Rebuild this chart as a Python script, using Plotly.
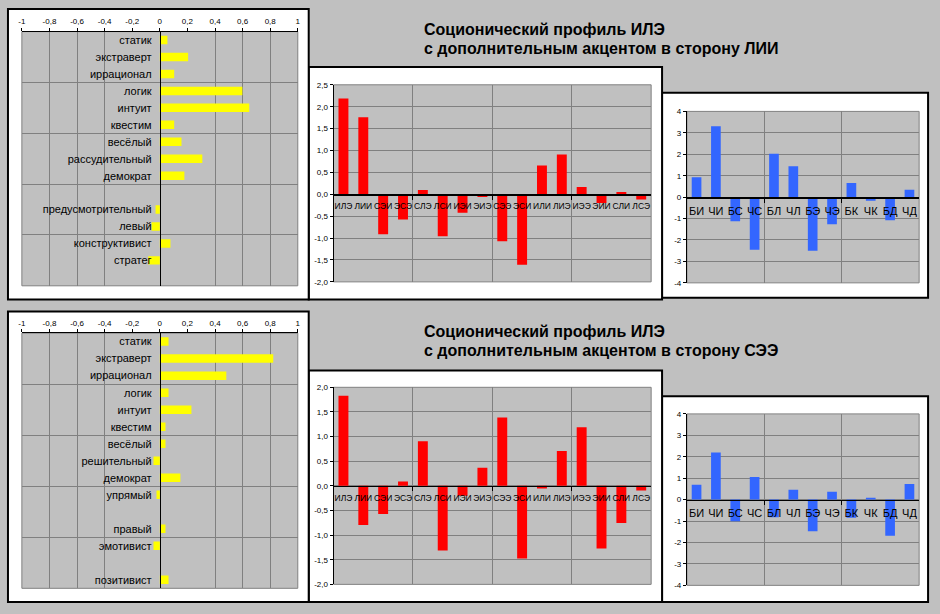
"""Socionics profile of ILE: two variants (accent to LII / accent to SEE).

Each row = trait bars (Reinin-like), 16 TIM scores, 12 function scores.
"""
import plotly.graph_objects as go

W, H = 940, 614
FONT = "Liberation Sans, Arial, sans-serif"
GREY = "#C0C0C0"
GRID = "#808080"
YELLOW = "#FFFF00"
RED = "#FF0000"
BLUE = "#3366FF"

# --- data -----------------------------------------------------------------
TOP_TITLE = ["Соционический профиль ИЛЭ", "с дополнительным акцентом в сторону ЛИИ"]
BOTTOM_TITLE = ["Соционический профиль ИЛЭ", "с дополнительным акцентом в сторону СЭЭ"]

TOP_TRAITS = ["статик", "экстраверт", "иррационал", "логик", "интуит", "квестим",
              "весёлый", "рассудительный", "демократ", "", "предусмотрительный",
              "левый", "конструктивист", "стратег", ""]
TOP_TRAIT_VALUES = [0.055, 0.205, 0.104, 0.598, 0.648, 0.104, 0.157, 0.308, 0.178,
                    None, -0.031, -0.06, 0.077, -0.084, None]

BOTTOM_TRAITS = ["статик", "экстраверт", "иррационал", "логик", "интуит", "квестим",
                 "весёлый", "решительный", "демократ", "упрямый", "", "правый",
                 "эмотивист", "", "позитивист"]
BOTTOM_TRAIT_VALUES = [0.063, 0.822, 0.482, 0.063, 0.229, 0.041, 0.041, -0.046, 0.149,
                       -0.024, None, 0.041, -0.046, None, 0.063]

TIMS = ["ИЛЭ", "ЛИИ", "СЭИ", "ЭСЭ", "СЛЭ", "ЛСИ", "ИЭИ", "ЭИЭ",
        "СЭЭ", "ЭСИ", "ИЛИ", "ЛИЭ", "ИЭЭ", "ЭИИ", "СЛИ", "ЛСЭ"]
TOP_TIM_VALUES = [2.19, 1.76, -0.915, -0.578, 0.098, -0.96, -0.42, -0.06,
                  -1.07, -1.61, 0.66, 0.91, 0.165, -0.2, 0.05, -0.12]
BOTTOM_TIM_VALUES = [1.827, -0.793, -0.573, 0.087, 0.907, -1.313, -0.2, 0.367,
                     1.387, -1.473, -0.053, 0.707, 1.187, -1.273, -0.753, -0.093]

FUNCS = ["БИ", "ЧИ", "БС", "ЧС", "БЛ", "ЧЛ", "БЭ", "ЧЭ", "БК", "ЧК", "БД", "ЧД"]
TOP_FUNC_VALUES = [0.93, 3.31, -1.13, -2.46, 2.02, 1.44, -2.5, -1.27, 0.66, -0.17, -1.08, 0.34]
BOTTOM_FUNC_VALUES = [0.69, 2.2, -1.01, 1.05, -0.82, 0.46, -1.47, 0.37, -0.85, 0.09, -1.69, 0.73]

TRAIT_TICKS = [-1, -0.8, -0.6, -0.4, -0.2, 0, 0.2, 0.4, 0.6, 0.8, 1]
TRAIT_GRID = [-0.8, -0.6, -0.4, 0.4, 0.6, 0.8]  # Excel sheet shows no lines at ±0.2
TOP_TIM_TICKS = [-2.0, -1.5, -1.0, -0.5, 0.0, 0.5, 1.0, 1.5, 2.0, 2.5]
BOTTOM_TIM_TICKS = [-2.0, -1.5, -1.0, -0.5, 0.0, 0.5, 1.0, 1.5, 2.0]
FUNC_TICKS = [-4, -3, -2, -1, 0, 1, 2, 3, 4]


def comma_labels(vals, fmt):
    return [format(v, fmt).replace(".", ",") for v in vals]


# --- geometry (pixels of the 940x614 sheet) ---------------------------------
def dom_x(left, right):
    return [left / W, right / W]


def dom_y(top, bottom):
    return [1 - bottom / H, 1 - top / H]


PANELS = [  # white chart boxes: left, top, right, bottom
    (663, 90, 931, 298), (307, 64, 663, 300), (4, 5, 307, 300),
    (663, 398, 931, 607), (307, 372, 663, 607), (4, 312, 307, 607),
]

fig = go.Figure()
shapes = []
annotations = []
layout_axes = {}

for l, t, r, b in PANELS:
    shapes.append(dict(type="rect", xref="paper", yref="paper", layer="below",
                       x0=l / W, x1=r / W, y0=1 - b / H, y1=1 - t / H,
                       fillcolor="white", line=dict(color="black", width=2)))


def plot_area(xd, yd):
    shapes.append(dict(type="rect", xref="paper", yref="paper", layer="below",
                       x0=xd[0], x1=xd[1], y0=yd[0], y1=yd[1],
                       fillcolor=GREY, line=dict(color=GRID, width=1)))


def ids(n):
    s = "" if n == 1 else str(n)
    return "x" + s, "y" + s, "xaxis" + s, "yaxis" + s


def trait_chart(n, traits, values, xd, yd):
    xid, yid, xkey, ykey = ids(n)
    plot_area(xd, yd)
    fig.add_trace(go.Bar(
        x=values, y=list(range(len(traits))), orientation="h", width=0.5,
        marker=dict(color=YELLOW, line_width=0), xaxis=xid, yaxis=yid, hoverinfo="skip",
    ))
    lo, hi = TRAIT_TICKS[0], TRAIT_TICKS[-1]
    zero_pos = xd[0] + (0 - lo) / (hi - lo) * (xd[1] - xd[0])
    layout_axes[xkey] = dict(
        domain=xd, range=[lo, hi], side="top", anchor=yid,
        tickvals=TRAIT_TICKS, ticktext=comma_labels(TRAIT_TICKS, "g"),
        tickfont=dict(size=8), ticks="outside", ticklen=3, tickcolor="black",
        showline=True, linecolor="black", linewidth=1,
        showgrid=False, zeroline=False,
        minor=dict(tickvals=TRAIT_GRID, showgrid=True, gridcolor=GRID,
                   gridwidth=1, ticks=""),
    )
    layout_axes[ykey] = dict(
        domain=yd, range=[len(traits) - 0.5, -0.5], anchor="free", position=zero_pos,
        tickvals=list(range(len(traits))), ticktext=traits, tickfont=dict(size=11),
        ticks="outside", ticklen=6, tickcolor="rgba(0,0,0,0)",
        showline=True, linecolor="black", linewidth=1.5,
        showgrid=False, zeroline=False,
        minor=dict(tickvals=[2.5, 5.5, 8.5, 11.5], showgrid=True,
                   gridcolor=GRID, gridwidth=1, ticks=""),
    )


def column_chart(n, cats, values, color, ticks, tick_text, label_size, xd, yd):
    xid, yid, xkey, ykey = ids(n)
    plot_area(xd, yd)
    fig.add_trace(go.Bar(
        x=list(range(len(cats))), y=values, width=0.5,
        marker=dict(color=color, line_width=0), xaxis=xid, yaxis=yid, hoverinfo="skip",
    ))
    lo, hi = ticks[0], ticks[-1]
    zero_pos = yd[0] + (0 - lo) / (hi - lo) * (yd[1] - yd[0])
    bounds = [i - 0.5 for i in range(4, len(cats), 4)]
    layout_axes[xkey] = dict(
        domain=xd, range=[-0.5, len(cats) - 0.5], anchor="free", position=zero_pos,
        tickvals=list(range(len(cats))), ticktext=cats, tickangle=0,
        tickfont=dict(size=label_size), ticks="outside", ticklen=3,
        tickcolor="rgba(0,0,0,0)", showline=True, linecolor="black", linewidth=1.5,
        showgrid=False, zeroline=False,
        minor=dict(tickvals=bounds, showgrid=True, gridcolor=GRID, gridwidth=1,
                   ticks="outside", ticklen=4, tickcolor="black"),
    )
    layout_axes[ykey] = dict(
        domain=yd, range=[lo, hi], anchor=xid,
        tickvals=ticks, ticktext=tick_text, tickfont=dict(size=8),
        ticks="outside", ticklen=3, tickcolor="black",
        showline=True, linecolor="black", linewidth=1,
        showgrid=True, gridcolor=GRID, gridwidth=1, zeroline=False,
    )


trait_chart(1, TOP_TRAITS, TOP_TRAIT_VALUES, dom_x(18, 296), dom_y(28, 286))
column_chart(2, TIMS, TOP_TIM_VALUES, RED, TOP_TIM_TICKS,
             comma_labels(TOP_TIM_TICKS, ".1f"), 8.5, dom_x(332, 652), dom_y(82, 282))
column_chart(3, FUNCS, TOP_FUNC_VALUES, BLUE, FUNC_TICKS,
             [str(v) for v in FUNC_TICKS], 11, dom_x(688, 922), dom_y(109, 283))
trait_chart(4, BOTTOM_TRAITS, BOTTOM_TRAIT_VALUES, dom_x(18, 296), dom_y(334, 593))
column_chart(5, TIMS, BOTTOM_TIM_VALUES, RED, BOTTOM_TIM_TICKS,
             comma_labels(BOTTOM_TIM_TICKS, ".1f"), 8.5, dom_x(332, 652), dom_y(389, 589))
column_chart(6, FUNCS, BOTTOM_FUNC_VALUES, BLUE, FUNC_TICKS,
             [str(v) for v in FUNC_TICKS], 11, dom_x(688, 922), dom_y(416, 590))

for title, tops in ((TOP_TITLE, (26, 45)), (BOTTOM_TITLE, (332, 352))):
    for line, py in zip(title, tops):
        annotations.append(dict(
            text=f"<b>{line}</b>", xref="paper", yref="paper", x=421 / W, y=1 - py / H,
            xanchor="left", yanchor="middle", showarrow=False,
            font=dict(size=16, color="black", family=FONT),
        ))

fig.update_layout(
    width=W, height=H, margin=dict(l=0, r=0, t=0, b=0),
    paper_bgcolor=GREY, plot_bgcolor=GREY, showlegend=False,
    separators=", ", font=dict(family=FONT, color="black"),
    shapes=shapes, annotations=annotations, **layout_axes,
)

# page body default margin would push the 940x614 sheet off the window
fig.write_html(
    "out.html",
    config={"displayModeBar": False, "staticPlot": True},
    post_script="document.body.style.margin = '0px';",
)
